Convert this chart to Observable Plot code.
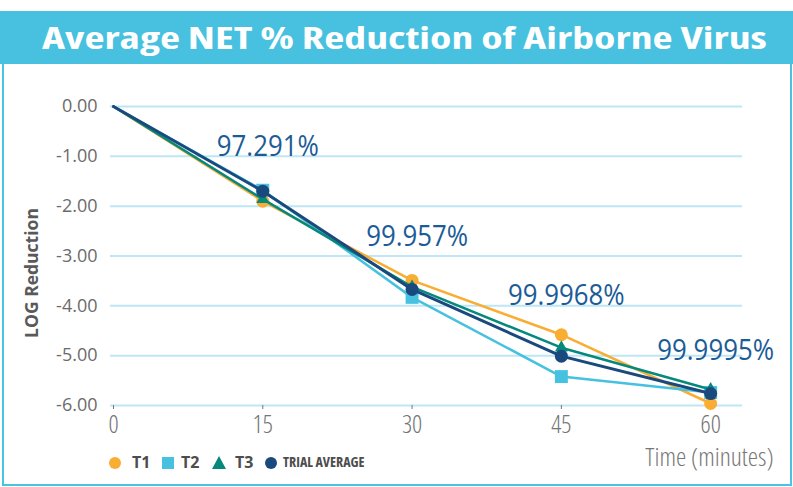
<!DOCTYPE html>
<html><head><meta charset="utf-8">
<script src="https://cdn.jsdelivr.net/npm/d3@7"></script>
<script src="https://cdn.jsdelivr.net/npm/@observablehq/plot@0.6"></script>
<style>
html,body{margin:0;padding:0;background:#fff;}
#wrap{position:relative;width:793px;height:487px;overflow:hidden;font-family:"Open Sans",sans-serif;}
#band{position:absolute;left:0;top:11px;width:793px;height:53px;background:#47C1DF;}
#title{position:absolute;left:42px;top:11px;height:53px;line-height:53px;color:#fff;font-weight:700;font-size:31px;font-stretch:87.5%;white-space:nowrap;transform-origin:0 50%;}
#box{position:absolute;left:2px;top:64px;width:786px;height:420px;border:2px solid #4CC3E0;border-top:none;}
#chart{position:absolute;left:0;top:64px;}
#ylab{position:absolute;left:31px;top:273px;transform:translate(-50%,-50%) rotate(-90deg);font-size:17.5px;font-weight:700;color:#595959;white-space:nowrap;}
.leg{position:absolute;top:452px;height:20px;line-height:20px;color:#4d4d4d;font-weight:700;white-space:nowrap;}
.leg svg{position:absolute;top:4px;}
</style></head>
<body>
<div id="wrap">
  <div id="band"></div>
  <div id="title">Average NET % Reduction of Airborne Virus</div>
  <div id="box"></div>
  <div id="chart"></div>
  <div id="ylab">LOG Reduction</div>
  <div id="legend"></div>
</div>
<script>
// ---- data ----
const times = [0, 15, 30, 45, 60];
const t1 = [0, -1.90, -3.49, -4.58, -5.96];
const t2 = [0, -1.68, -3.83, -5.42, -5.74];
const t3 = [0, -1.86, -3.62, -4.84, -5.68];
const trialAvg = [0, -1.70, -3.67, -5.01, -5.76];
const seriesNames = ["T1", "T2", "T3", "TRIAL AVERAGE"];
const seriesColors = ["#F9AD32", "#46C1DF", "#05897C", "#1A4A7D"];
const seriesSymbols = ["circle", "square", "triangle", "circle"];
const annoTimes = [15, 30, 45, 60];
const annoLabels = ["97.291%", "99.957%", "99.9968%", "99.9995%"];
const annoLog = [-0.80, -2.61, -3.79, -4.90];
const yTicks = [0, -1, -2, -3, -4, -5, -6];
const xTicks = [0, 15, 30, 45, 60];
const xTitle = "Time (minutes)";

const allValues = [t1, t2, t3, trialAvg];
const rows = [];
allValues.forEach((vals, s) => vals.forEach((v, i) => rows.push({series: seriesNames[s], time: times[i], value: v})));
const annos = annoTimes.map((t, i) => ({time: t, label: annoLabels[i], y: annoLog[i]}));

const marks = [
  Plot.gridY(yTicks, {stroke: "#BEE6F5", strokeOpacity: 1, strokeWidth: 2}),
  Plot.axisY({ticks: yTicks, tickSize: 0, tickPadding: 13, tickFormat: d => d.toFixed(2), fontSize: 18, color: "#6b6b6b", label: null}),
  Plot.axisX({ticks: xTicks, tickSize: 4, tickPadding: 6, fontSize: 25, color: "#757575", label: null})
];
seriesNames.forEach((name, s) => {
  const d = rows.filter(r => r.series === name);
  marks.push(Plot.line(d, {x: "time", y: "value", stroke: seriesColors[s], strokeWidth: s === 3 ? 3 : 2.5}));
  marks.push(Plot.dot(d.filter(r => r.time > 0), {x: "time", y: "value", fill: seriesColors[s], stroke: "none",
    symbol: () => seriesSymbols[s], r: seriesSymbols[s] === "square" ? 7.3 : seriesSymbols[s] === "triangle" ? 4.8 : 6.5}));
});
marks.push(Plot.text(annos, {x: "time", y: "y", text: "label", dx: 5, fontSize: 29, fill: "#1B5C97"}));
marks.push(Plot.text([xTitle], {frameAnchor: "bottom-right", dx: 31, dy: 60, textAnchor: "end", fontSize: 26, fill: "#777"}));

const chart = Plot.plot({
  width: 793, height: 423,
  marginTop: 42, marginBottom: 82, marginLeft: 110, marginRight: 51,
  x: {domain: [-0.3, 63.2]},
  y: {domain: [-6, 0]},
  symbol: {type: "identity"},
  style: {fontFamily: "Open Sans", background: "transparent", overflow: "visible"},
  marks
});
document.getElementById("chart").appendChild(chart);

// narrower faces, as in the original
const xTickStrs = xTicks.map(String);
d3.select(chart).selectAll("text").each(function() {
  const t = this.textContent;
  if (annoLabels.includes(t)) {
    const L = this.getComputedTextLength();
    this.setAttribute("textLength", L * 0.89);
    this.setAttribute("lengthAdjust", "spacingAndGlyphs");
  } else if (xTickStrs.includes(t) || t === xTitle) {
    this.style.fontStretch = "75%";
    this.style.fontWeight = "300";
  }
});

// title fit
const title = document.getElementById("title");
const w = title.getBoundingClientRect().width;
title.style.transform = `scaleX(${725 / w})`;

// legend
const legend = document.getElementById("legend");
const legPos = [[109, 132], [162, 181], [212, 235], [265, 283]];
seriesNames.forEach((name, s) => {
  const it = document.createElement("div");
  it.className = "leg";
  it.style.left = legPos[s][0] + "px";
  const sym = seriesSymbols[s];
  let shape;
  if (sym === "circle") shape = `<circle cx="6" cy="7" r="6" fill="${seriesColors[s]}"/>`;
  else if (sym === "square") shape = `<rect x="0" y="1" width="12" height="12" fill="${seriesColors[s]}"/>`;
  else shape = `<polygon points="7,0 14,13 0,13" fill="${seriesColors[s]}"/>`;
  const small = s === 3;
  it.innerHTML = `<svg width="14" height="14" style="left:0">${shape}</svg><span style="position:absolute;left:${legPos[s][1] - legPos[s][0]}px;font-size:${small ? 14 : 16}px;${small ? "font-stretch:87.5%;" : ""}">${name}</span>`;
  legend.appendChild(it);
});
</script>
</body></html>
